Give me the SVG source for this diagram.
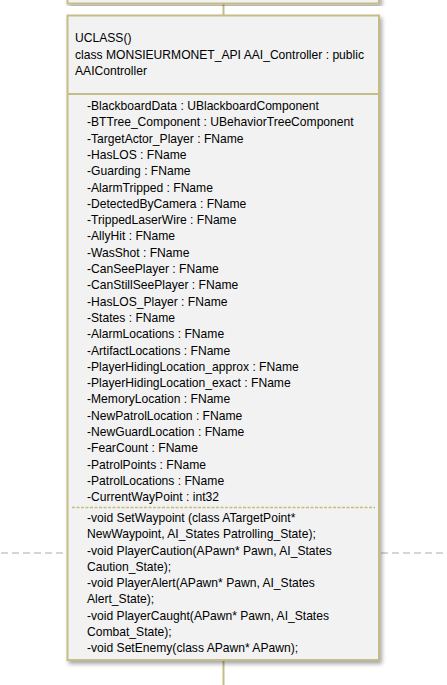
<svg xmlns="http://www.w3.org/2000/svg" width="447" height="685" viewBox="0 0 447 685">
<style>
.box{fill:#f2f2f2;stroke:#c4bd88;stroke-width:2}
.sep{stroke:#c4bd88;stroke-width:2;fill:none}
.dsep{stroke:#c6bd7a;stroke-width:1.5;stroke-dasharray:3 1.5;fill:none}
.conn{stroke:#c4bd88;stroke-width:2;fill:none}
.guide{stroke:#ababab;stroke-width:1.2;stroke-dasharray:7 4;fill:none}
text{font-family:"Liberation Sans",Arial,sans-serif;font-size:12.1px;fill:#000}
</style>
<defs>
<filter id="sh" x="-10%" y="-10%" width="120%" height="120%">
<feGaussianBlur in="SourceAlpha" stdDeviation="2"/>
<feOffset dx="2" dy="3" result="b"/>
<feComponentTransfer><feFuncA type="linear" slope="0.35"/></feComponentTransfer>
<feMerge><feMergeNode/><feMergeNode in="SourceGraphic"/></feMerge>
</filter>
</defs>
<rect width="447" height="685" fill="#ffffff"/>
<g id="guides">
<line class="guide" x1="1" y1="553" x2="67" y2="553"/>
<line class="guide" x1="381" y1="553" x2="447" y2="553"/>
</g>
<g id="connectors">
<line class="conn" x1="223.5" y1="3" x2="223.5" y2="15"/>
<line class="conn" x1="223.5" y1="660" x2="223.5" y2="685"/>
</g>
<g id="node-prev">
<rect class="box" x="67.5" y="-20" width="311.5" height="23.5" filter="url(#sh)"/>
</g>
<g id="node-AAI_Controller">
<rect class="box" x="67.5" y="15.5" width="311.5" height="644.5" filter="url(#sh)"/>
<line class="sep" x1="67.5" y1="94" x2="379" y2="94"/>
<line class="dsep" x1="72" y1="507.5" x2="375" y2="507.5"/>
<text x="75" y="42.3">UCLASS()</text>
<text x="75" y="58.6">class MONSIEURMONET_API AAI_Controller : public</text>
<text x="75" y="74.9">AAIController</text>
<g id="attributes">
<text x="87" y="110">-BlackboardData : UBlackboardComponent</text>
<text x="87" y="126.3">-BTTree_Component : UBehaviorTreeComponent</text>
<text x="87" y="142.6">-TargetActor_Player : FName</text>
<text x="87" y="158.9">-HasLOS : FName</text>
<text x="87" y="175.2">-Guarding : FName</text>
<text x="87" y="191.5">-AlarmTripped : FName</text>
<text x="87" y="207.8">-DetectedByCamera : FName</text>
<text x="87" y="224.1">-TrippedLaserWire : FName</text>
<text x="87" y="240.4">-AllyHit : FName</text>
<text x="87" y="256.7">-WasShot : FName</text>
<text x="87" y="273">-CanSeePlayer : FName</text>
<text x="87" y="289.3">-CanStillSeePlayer : FName</text>
<text x="87" y="305.6">-HasLOS_Player : FName</text>
<text x="87" y="321.9">-States : FName</text>
<text x="87" y="338.2">-AlarmLocations : FName</text>
<text x="87" y="354.5">-ArtifactLocations : FName</text>
<text x="87" y="370.8">-PlayerHidingLocation_approx : FName</text>
<text x="87" y="387.1">-PlayerHidingLocation_exact : FName</text>
<text x="87" y="403.4">-MemoryLocation : FName</text>
<text x="87" y="419.7">-NewPatrolLocation : FName</text>
<text x="87" y="436">-NewGuardLocation : FName</text>
<text x="87" y="452.3">-FearCount : FName</text>
<text x="87" y="468.6">-PatrolPoints : FName</text>
<text x="87" y="484.9">-PatrolLocations : FName</text>
<text x="87" y="501.2">-CurrentWayPoint : int32</text>
</g>
<g id="methods">
<text x="87" y="522">-void SetWaypoint (class ATargetPoint*</text>
<text x="87" y="538.25">NewWaypoint, AI_States Patrolling_State);</text>
<text x="87" y="554.5">-void PlayerCaution(APawn* Pawn, AI_States</text>
<text x="87" y="570.75">Caution_State);</text>
<text x="87" y="587">-void PlayerAlert(APawn* Pawn, AI_States</text>
<text x="87" y="603.25">Alert_State);</text>
<text x="87" y="619.5">-void PlayerCaught(APawn* Pawn, AI_States</text>
<text x="87" y="635.75">Combat_State);</text>
<text x="87" y="652">-void SetEnemy(class APawn* APawn);</text>
</g>
</g>
</svg>
